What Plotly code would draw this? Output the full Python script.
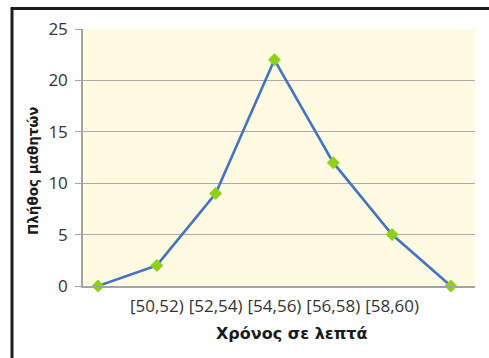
import plotly.graph_objects as go

# Class intervals (minutes) and number of students per class
categories = ["", "[50,52)", "[52,54)", "[54,56)", "[56,58)", "[58,60)", ""]
students = [0, 2, 9, 22, 12, 5, 0]
y_ticks = [0, 5, 10, 15, 20, 25]

W, H = 489, 358
L, R, T, B = 83, 14, 29, 72
pw, ph = W - L - R, H - T - B


def px_x(px):
    return (px - L) / pw


def px_y(py):
    return (H - B - py) / ph


TICK_FONT = "Open Sans"
TITLE_FONT = "DejaVu Sans"
idx = list(range(len(categories)))

fig = go.Figure()
fig.add_trace(go.Scatter(
    x=idx,
    y=students,
    mode="lines+markers",
    line=dict(color="#4472c4", width=2.6),
    marker=dict(symbol="diamond", size=10, color="#8fd11a"),
    cliponaxis=False,
    hoverinfo="skip",
))

fig.update_layout(
    width=W,
    height=H,
    margin=dict(l=L, r=R, t=T, b=B),
    paper_bgcolor="white",
    plot_bgcolor="#fefbe2",
    showlegend=False,
    font=dict(family=TICK_FONT, size=14, color="#333333"),
    xaxis=dict(
        range=[-0.255, 6.41],
        tickmode="array",
        tickvals=idx[1:-1],
        ticktext=categories[1:-1],
        showgrid=False,
        zeroline=False,
        showline=True,
        linecolor="#a3a3a3",
        linewidth=1.5,
        ticks="",
        ticklabelstandoff=4,
        tickfont=dict(family=TICK_FONT, size=17, color="#333333"),
    ),
    yaxis=dict(
        range=[0, 25],
        tickmode="array",
        tickvals=y_ticks,
        showgrid=True,
        gridcolor="#aaaaaa",
        gridwidth=1,
        zeroline=False,
        showline=True,
        linecolor="#a3a3a3",
        linewidth=1.5,
        ticks="outside",
        ticklen=6,
        tickcolor="#a3a3a3",
        ticklabelstandoff=4,
        tickfont=dict(family=TICK_FONT, size=17, color="#333333"),
    ),
    annotations=[
        dict(
            text="<b>Πλήθος μαθητών</b>",
            xref="paper", yref="paper",
            x=px_x(33), y=px_y(171),
            textangle=-90, showarrow=False,
            xanchor="center", yanchor="middle",
            font=dict(family=TITLE_FONT, size=13.5, color="#1a1a1a"),
        ),
        dict(
            text="<b>Χρόνος σε λεπτά</b>",
            xref="paper", yref="paper",
            x=px_x(292), y=px_y(333),
            showarrow=False,
            xanchor="center", yanchor="middle",
            font=dict(family=TITLE_FONT, size=16, color="#1a1a1a"),
        ),
    ],
    shapes=[
        # outer frame (top and left edges)
        dict(type="line", xref="paper", yref="paper",
             x0=px_x(12), y0=px_y(8.5), x1=px_x(500), y1=px_y(8.5),
             line=dict(color="#1e1e1e", width=3)),
        dict(type="line", xref="paper", yref="paper",
             x0=px_x(12), y0=px_y(7), x1=px_x(12), y1=px_y(370),
             line=dict(color="#1e1e1e", width=3)),
    ],
)

fig.write_html("out.html")
